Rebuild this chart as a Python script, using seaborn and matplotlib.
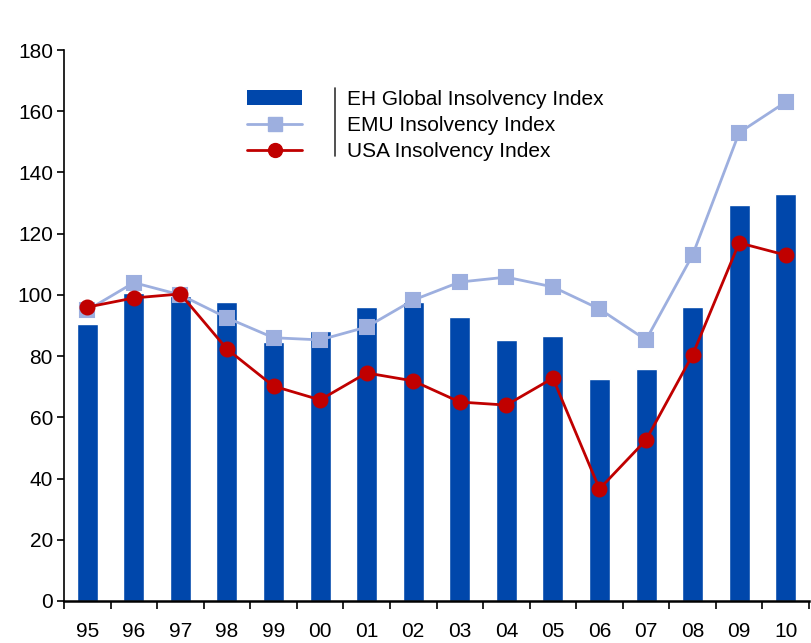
import matplotlib
matplotlib.use("Agg")
import matplotlib.pyplot as plt
import seaborn as sns
import pandas as pd
from matplotlib.lines import Line2D
from matplotlib.patches import Patch
from matplotlib.ticker import FixedLocator

# Data
years = ["95", "96", "97", "98", "99", "00", "01", "02",
         "03", "04", "05", "06", "07", "08", "09", "10"]
eh_global = [90.5, 100.6, 99.6, 97.7, 84.6, 88.2, 96.0, 97.7,
             92.8, 85.3, 86.6, 72.5, 75.8, 96.0, 129.4, 133.0]
emu = [95.0, 104.0, 100.0, 92.5, 86.0, 85.3, 89.5, 98.3,
       104.2, 105.8, 102.6, 95.4, 85.3, 113.0, 153.0, 163.0]
usa = [96.0, 99.0, 100.3, 82.3, 70.2, 65.7, 74.5, 71.9,
       65.0, 64.0, 72.8, 36.6, 52.6, 80.4, 117.0, 113.0]

df = pd.DataFrame({"Year": years, "EH": eh_global, "EMU": emu, "USA": usa})

bar_color = "#0047AB"
emu_color = "#9DAFDF"
usa_color = "#C00000"

sns.set_style("ticks", {"axes.edgecolor": "black", "text.color": "black",
                        "xtick.color": "black", "ytick.color": "black"})
plt.rcParams["font.family"] = ["Liberation Sans", "DejaVu Sans"]

fig = plt.figure(figsize=(8.11, 6.43), dpi=100)
ax = fig.add_axes([64 / 811, 42 / 643, 745 / 811, 551 / 643])

sns.barplot(data=df, x="Year", y="EH", order=years, color=bar_color,
            width=0.45, saturation=1, ax=ax, zorder=2)
sns.pointplot(data=df, x="Year", y="EMU", order=years, color=emu_color,
              markers="s", markersize=10, linewidth=2, ax=ax, zorder=3)
sns.pointplot(data=df, x="Year", y="USA", order=years, color=usa_color,
              markers="o", markersize=10, linewidth=2, ax=ax, zorder=4)

ax.set_xlim(-0.5, len(years) - 0.5)
ax.set_ylim(0, 180)
ax.set_yticks(range(0, 181, 20))
ax.set_xlabel("")
ax.set_ylabel("")

# labels at bar centres, tick marks at category boundaries
ax.tick_params(axis="x", which="major", length=0, pad=15, labelsize=15, labelcolor="black")
ax.xaxis.set_minor_locator(FixedLocator([i - 0.5 for i in range(len(years) + 1)]))
ax.tick_params(axis="x", which="minor", length=6, width=1.2, direction="out", color="black")
ax.tick_params(axis="y", length=5, width=1.2, direction="out", labelsize=15, pad=3,
               color="black", labelcolor="black")

sns.despine(ax=ax)
ax.spines["left"].set_linewidth(1.2)
ax.spines["bottom"].set_linewidth(1.8)

handles = [
    Patch(facecolor=bar_color, edgecolor="none"),
    Line2D([], [], color=emu_color, marker="s", markersize=10, linewidth=2),
    Line2D([], [], color=usa_color, marker="o", markersize=10, linewidth=2),
]
labels = ["EH Global Insolvency Index", "EMU Insolvency Index", "USA Insolvency Index"]
leg = ax.legend(handles, labels, loc="upper left", bbox_to_anchor=(0.246, 0.928),
                frameon=False, fontsize=15, handlelength=2.64, handleheight=0.72,
                handletextpad=2.16, labelspacing=0.35, borderpad=0, borderaxespad=0)
for t in leg.get_texts():
    t.set_color("black")

# vertical separator inside the legend
fig.add_artist(Line2D([335 / 811, 335 / 811], [1 - 88 / 643, 1 - 156 / 643],
                      color="#333333", linewidth=1.2))

fig.savefig("out.png", dpi=100)
